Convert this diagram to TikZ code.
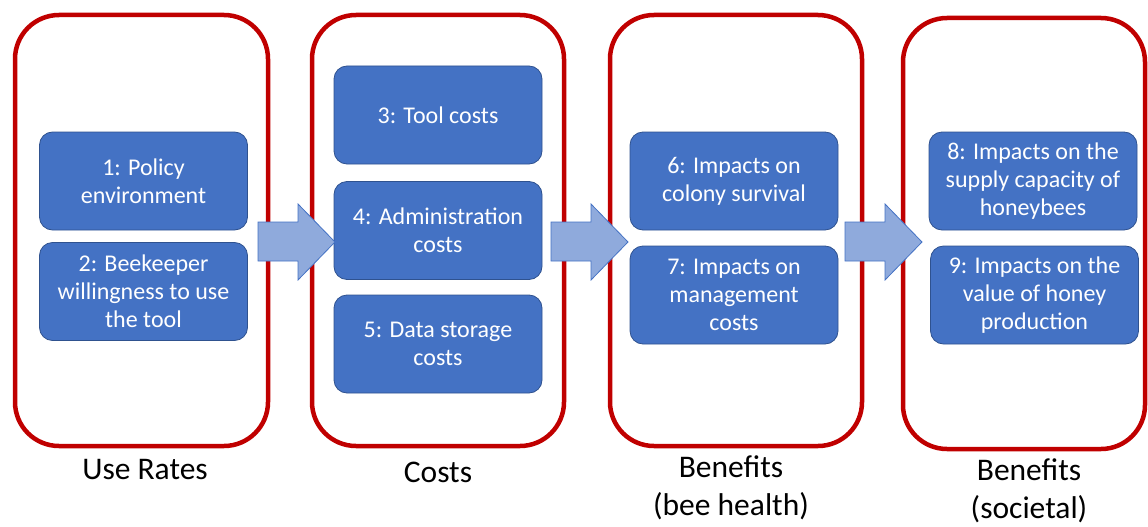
\documentclass[tikz,border=0pt]{standalone}
\usepackage{fontspec}
\setmainfont{Carlito}
\definecolor{framered}{HTML}{C00000}
\definecolor{boxblue}{HTML}{4472C4}
\definecolor{boxedge}{HTML}{2F528F}
\definecolor{arrowblue}{HTML}{8FAADC}
\tikzset{
  stage/.style={draw=framered, line width=4.5pt, rounded corners=44pt},
  factor/.style={draw=boxedge, line width=0.8pt, fill=boxblue, rounded corners=13pt,
    minimum width=208pt, minimum height=98pt, inner sep=2pt, text=white, align=center,
    font=\fontsize{24}{28}\selectfont},
  heading/.style={align=center, font=\fontsize{31.5}{38}\selectfont},
  flow/.style={draw=boxblue, line width=0.8pt, fill=arrowblue}
}
\begin{document}
\begin{tikzpicture}[x=1pt,y=-1pt]
            \useasboundingbox (0,0) rectangle (1148,527);
            \draw[stage] (15,15) rectangle (268,446);
            \draw[stage] (312,15) rectangle (564,446);
            \draw[stage] (610,15) rectangle (862,446);
            \draw[stage] (903,18) rectangle (1145,449);
            \node[factor] (policy) at (143.5,181) {1: Policy\\environment};
            \node[factor] (willing) at (143.5,291.5) {2: Beekeeper\\willingness to use\\the tool};
            \node[factor] (toolcost) at (438,115) {3: Tool costs};
            \node[factor] (admin) at (438,230.5) {4: Administration\\costs};
            \node[factor] (storage) at (438,344) {5: Data storage\\costs};
            \node[factor] (survival) at (734,181) {6: Impacts on\\colony survival};
            \node[factor] (mgmt) at (734,295) {7: Impacts on\\management\\costs};
            \node[factor] (supply) at (1033,181) {8: Impacts on the\\supply capacity of\\honeybees};
            \node[factor] (honey) at (1034.5,295) {9: Impacts on the\\value of honey\\production};
            \foreach \s in {258,551,845}
              \draw[flow] (\s,222) -- (\s+40,222) -- (\s+40,204) -- (\s+77,242)
                -- (\s+40,280) -- (\s+40,261) -- (\s,261) -- cycle;
            \node[heading] (userates) at (145,470) {Use Rates};
            \node[heading] (costs) at (438,472) {Costs};
            \node[heading] (beehealth) at (731,488) {Benefits\\(bee health)};
            \node[heading] (societal) at (1029,491) {Benefits\\(societal)};
\end{tikzpicture}
\end{document}
